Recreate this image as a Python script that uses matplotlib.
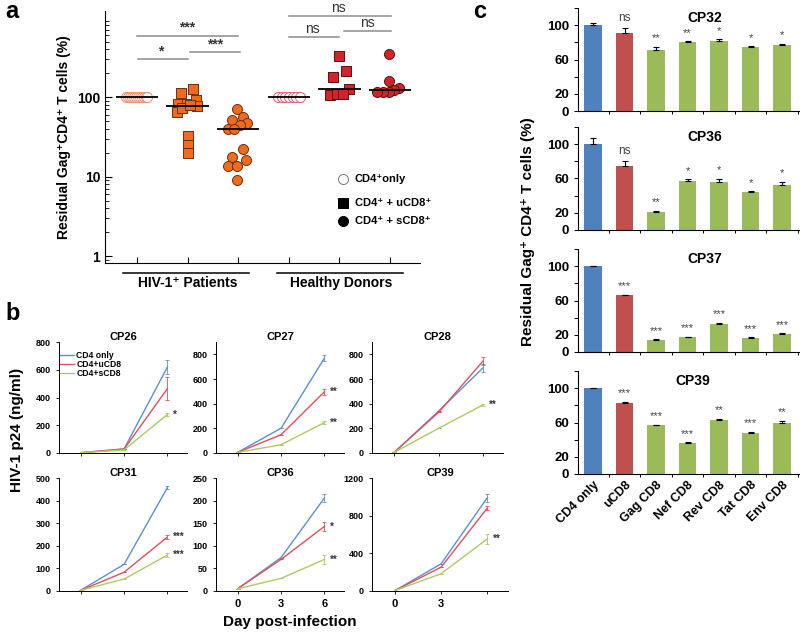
import matplotlib.pyplot as plt
import numpy as np
from matplotlib.transforms import blended_transform_factory

plt.rcParams['font.family'] = ['Liberation Sans', 'DejaVu Sans']
plt.rcParams['font.weight'] = 'bold'
plt.rcParams['axes.titleweight'] = 'bold'
plt.rcParams['axes.linewidth'] = 0.8

W, H = 800, 632


def box(l, t, r, b):
    # pixel box -> figure fraction
    return [l / W, 1 - b / H, (r - l) / W, (b - t) / H]


# ---------------- panel a data ----------------
pat_cd4 = [100, 100, 100, 100, 100, 100, 100, 100, 100, 100, 100, 100]
pat_ucd8 = [113, 125, 82, 83, 92, 77, 65, 72, 79, 32, 25, 20]
pat_scd8 = [71, 52, 57, 47, 45, 40, 40, 22, 17.5, 16.4, 13.6, 13.6, 9.1]
hd_cd4 = [100, 100, 100, 100, 100, 100, 100]
hd_ucd8 = [328, 214, 180, 126, 106, 108, 108]
hd_scd8 = [348, 160, 132, 122, 117, 115, 115]

# horizontal scatter of the points (pixels)
jit_pat_cd4 = [-11, -9, -7, -5, -3, -1, 1, 3, 5, 7, 9, 10]
jit_pat_ucd8 = [-7, 5, -10, -1, 8, 9, -11, -6, 2, 0, 0, 0]
jit_pat_scd8 = [-1, -6, 5, 9, 2, -10, -4, 5, -6, 8, -10, -1, -1]
jit_hd_cd4 = [-11, -7.3, -3.7, 0, 3.7, 7.3, 11]
jit_hd_ucd8 = [0, 7, -6, 10, -9, -2, 4]
jit_hd_scd8 = [-1, -1, 9, 4, -1, -7, -13]

# ---------------- panel b data ----------------
days = [0, 3, 6]
b_titles = ['CP26', 'CP27', 'CP28', 'CP31', 'CP36', 'CP39']
b_cd4 = [[2, 30, 620], [5, 201, 770], [5, 340, 690], [3, 118, 458], [5, 74, 206], [5, 289, 990]]
b_ucd8 = [[2, 28, 465], [5, 148, 497], [5, 330, 745], [3, 83, 239], [5, 70, 143], [5, 253, 880]]
b_scd8 = [[2, 22, 278], [5, 67, 247], [5, 200, 390], [3, 53, 159], [5, 28, 70], [5, 184, 553]]
b_cd4_err = [[0, 0, 50], [0, 0, 25], [0, 0, 35], [0, 0, 5], [0, 0, 8], [0, 0, 40]]
b_ucd8_err = [[0, 0, 80], [0, 0, 25], [0, 0, 30], [0, 0, 10], [0, 0, 10], [0, 0, 20]]
b_scd8_err = [[0, 0, 10], [0, 0, 15], [0, 0, 5], [0, 0, 8], [0, 0, 10], [0, 0, 50]]
b_ucd8_sig = ['', '**', '', '***', '*', '']
b_scd8_sig = ['*', '**', '**', '***', '**', '**']
b_ymax = [800, 900, 900, 500, 250, 1200]
b_yticks = [[0, 200, 400, 600, 800], [0, 200, 400, 600, 800], [0, 200, 400, 600, 800],
            [0, 100, 200, 300, 400, 500], [0, 50, 100, 150, 200, 250], [0, 400, 800, 1200]]

# ---------------- panel c data ----------------
c_groups = ['CD4 only', 'uCD8', 'Gag CD8', 'Nef CD8', 'Rev CD8', 'Tat CD8', 'Env CD8']
c_titles = ['CP32', 'CP36', 'CP37', 'CP39']
c_vals = [[100, 91.4, 71.4, 80, 82, 74, 76.5],
          [100, 74, 21.4, 57.6, 55.6, 44.7, 52.5],
          [100, 66.3, 14.4, 17.4, 33, 16.7, 21.4],
          [100, 83, 56.6, 36, 63.2, 47.7, 59.3]]
c_errs = [[2.7, 5.5, 3.5, 1.5, 1.5, 1.5, 2],
          [7, 6.6, 0.8, 1.5, 4, 0.5, 3.5],
          [0.5, 0.6, 0.6, 0.6, 0.8, 0.6, 0.6],
          [0.5, 1, 1, 0.7, 1, 1.5, 2.5]]
c_sig = [['', 'ns', '**', '**', '*', '*', '*'],
         ['', 'ns', '**', '*', '*', '*', '*'],
         ['', '***', '***', '***', '***', '***', '***'],
         ['', '***', '***', '***', '**', '***', '**']]

ORANGE = '#f26b1d'
RED = '#d3222c'
BLUE_L, RED_L, GREEN_L = '#5b8fd6', '#e0505a', '#a9cc62'
BAR_COLORS = ['#4f81bd', '#c0504d', '#9bbb59', '#9bbb59', '#9bbb59', '#9bbb59', '#9bbb59']

fig = plt.figure(figsize=(W / 100, H / 100), dpi=100)

# ====================== panel a ======================
ax = fig.add_axes(box(105, 11, 420, 263))
ax.set_yscale('log')
ax.set_ylim(0.82, 1210)
ax.set_xlim(0.37, 6.59)
for s in ['top', 'right']:
    ax.spines[s].set_visible(False)
px = 1 / 50.6  # one pixel in x data units

groups = [
    (1, pat_cd4, jit_pat_cd4, 'o', 'white', '#f09070'),
    (2, pat_ucd8, jit_pat_ucd8, 's', ORANGE, '#6a3010'),
    (3, pat_scd8, jit_pat_scd8, 'o', ORANGE, '#6a3010'),
    (4, hd_cd4, jit_hd_cd4, 'o', 'white', '#e06070'),
    (5, hd_ucd8, jit_hd_ucd8, 's', RED, '#5a1010'),
    (6, hd_scd8, jit_hd_scd8, 'o', RED, '#5a1010'),
]
for xc, vals, jit, mk, fc, ec in groups:
    xs = [xc + j * px for j in jit]
    ax.scatter(xs, vals, s=52, marker=mk, facecolor=fc, edgecolor=ec, linewidth=0.7, zorder=3)
    ax.hlines(np.median(vals), xc - 0.42, xc + 0.42, color='black', lw=1.3, zorder=4)

ax.set_xticks([1, 2, 3, 4, 5, 6])
ax.set_xticklabels([])
ax.set_yticks([1, 10, 100])
ax.set_yticklabels(['1', '10', '100'], fontsize=10)
ax.tick_params(axis='both', which='both', direction='in')
ax.tick_params(axis='y', which='major', length=5)
ax.tick_params(axis='y', which='minor', length=3)
ax.tick_params(axis='x', length=4)
ax.set_ylabel('Residual Gag⁺CD4⁺ T cells (%)', fontsize=10, fontweight='bold', labelpad=4)

brackets = [
    ('*', 1.02, 2.0, 300, 1.47),
    ('***', 1.0, 3.0, 590, 2.0),
    ('***', 2.05, 3.04, 368, 2.54),
    ('ns', 4.0, 6.02, 1040, 4.97),
    ('ns', 4.0, 5.0, 570, 4.47),
    ('ns', 5.08, 6.02, 676, 5.55),
]
for lab, x1, x2, yv, xt in brackets:
    ax.plot([x1, x2], [yv, yv], color='#8c8c8c', lw=1.1, clip_on=False)
    ax.text(xt, yv * 1.03, lab, ha='center', va='bottom', fontsize=10,
            fontweight='normal' if lab == 'ns' else 'bold', color='#333333', clip_on=False)

trans = blended_transform_factory(ax.transData, ax.transAxes)
ax.plot([0.72, 3.21], [-0.04, -0.04], color='black', lw=1.1, transform=trans, clip_on=False)
ax.plot([3.77, 6.26], [-0.04, -0.04], color='black', lw=1.1, transform=trans, clip_on=False)
ax.text(2.0, -0.08, 'HIV-1⁺ Patients', transform=trans, ha='center', va='center', fontsize=10)
ax.text(5.03, -0.08, 'Healthy Donors', transform=trans, ha='center', va='center', fontsize=10)

leg_y = [0.333, 0.238, 0.167]
leg_lab = ['CD4⁺only', 'CD4⁺ + uCD8⁺', 'CD4⁺ + sCD8⁺']
leg_mk = [('o', 'white'), ('s', 'black'), ('o', 'black')]
for yy, lab, (mk, fc) in zip(leg_y, leg_lab, leg_mk):
    ax.scatter([5.07], [yy], s=52, marker=mk, facecolor=fc, edgecolor='black' if fc == 'black' else '#777777',
               linewidth=0.7, transform=trans, clip_on=False)
    ax.text(5.3, yy, lab, transform=trans, ha='left', va='center', fontsize=8)

# ====================== panel b ======================
b_boxes = [(59, 342, 187, 453), (216, 342, 344, 453), (372, 342, 503, 453),
           (59, 478, 187, 591), (216, 478, 344, 591), (372, 478, 508, 591)]
for i, (l, t, r, bt) in enumerate(b_boxes):
    bx = fig.add_axes(box(l, t, r, bt))
    for s in ['top', 'right']:
        bx.spines[s].set_visible(False)
    bx.spines['left'].set_linewidth(0.7)
    bx.spines['bottom'].set_linewidth(0.7)
    for vals, err, col, lab in [(b_cd4[i], b_cd4_err[i], BLUE_L, 'CD4 only'),
                                (b_ucd8[i], b_ucd8_err[i], RED_L, 'CD4+uCD8'),
                                (b_scd8[i], b_scd8_err[i], GREEN_L, 'CD4+sCD8')]:
        bx.plot(days, vals, color=col, lw=1.0, label=lab)
        bx.errorbar(days, vals, yerr=err, fmt='none', ecolor=col, elinewidth=0.6, capsize=1.5,
                    capthick=0.6)
    ymax = b_ymax[i]
    for vals, sig in [(b_ucd8[i], b_ucd8_sig[i]), (b_scd8[i], b_scd8_sig[i])]:
        if sig:
            bx.text(6.4, vals[2], sig, ha='left', va='center', fontsize=7, color='#333333')
    bx.set_xlim(-1.5, 7.35)
    bx.set_ylim(0, ymax)
    bx.set_yticks(b_yticks[i])
    bx.tick_params(axis='both', labelsize=6.5, length=2.5, width=0.6)
    bx.set_xticks(days)
    if i == 4:
        bx.set_xticklabels(['0', '3', '6'], fontsize=8)
    elif i == 5:
        bx.set_xticklabels(['0', '3', ''], fontsize=8)
    else:
        bx.set_xticklabels([])
    bx.set_title(b_titles[i], fontsize=8, pad=0.5)
    if i == 0:
        bx.legend(loc='upper left', bbox_to_anchor=(0.0, 0.93), frameon=False, fontsize=6.2,
                  handlelength=1.6, handletextpad=0.3, labelspacing=0.05, borderpad=0.1,
                  borderaxespad=0)

fig.text(17 / W, 1 - 430 / H, 'HIV-1 p24 (ng/ml)', rotation=90, ha='center', va='center', fontsize=11)
fig.text(290 / W, 1 - 622 / H, 'Day post-infection', ha='center', va='center', fontsize=11)

# ====================== panel c ======================
c_boxes = [(578, 8, 800, 111), (578, 127, 800, 230), (578, 249, 800, 352), (578, 371, 800, 474)]
title_x = [3.55, 3.55, 3.55, 3.15]
xpos = np.arange(len(c_groups))
for k, (l, t, r, bt) in enumerate(c_boxes):
    cx = fig.add_axes(box(l, t, r, bt))
    for s in ['top', 'right']:
        cx.spines[s].set_visible(False)
    cx.bar(xpos, c_vals[k], width=0.56, color=BAR_COLORS, zorder=2)
    cx.errorbar(xpos, c_vals[k], yerr=[np.zeros(len(xpos)), c_errs[k]], fmt='none', ecolor='black',
                elinewidth=0.8, capsize=2.5, capthick=0.8, zorder=3)
    for x, v, e, sg in zip(xpos, c_vals[k], c_errs[k], c_sig[k]):
        if sg:
            cx.text(x, v + e + 4, sg, ha='center', va='bottom',
                    fontsize=8.5 if sg == 'ns' else 8, fontweight='normal', color='#444444')
    cx.set_xlim(-0.48, 6.57)
    cx.set_ylim(0, 120)
    cx.set_yticks([0, 20, 40, 60, 80, 100, 120])
    cx.set_yticklabels(['0', '20', '', '60', '', '100', ''], fontsize=9.5)
    cx.set_xticks(xpos + 0.5, minor=True)
    cx.tick_params(axis='y', length=3, width=0.7)
    cx.tick_params(axis='x', which='minor', length=2.5, width=0.7)
    cx.set_xticks(xpos)
    cx.tick_params(axis='x', which='major', length=0)
    if k == 3:
        cx.set_xticklabels(c_groups, rotation=45, ha='right', va='top', rotation_mode='anchor', fontsize=9)
    else:
        cx.set_xticklabels([])
    cx.text(title_x[k], 116, c_titles[k], ha='center', va='top', fontsize=10)

fig.text(528 / W, 1 - 232 / H, 'Residual Gag⁺ CD4⁺ T cells (%)', rotation=90, ha='center', va='center',
         fontsize=11)

# panel letters
fig.text(5 / W, 1 - 12 / H, 'a', fontsize=17, ha='left', va='center')
fig.text(5 / W, 1 - 313 / H, 'b', fontsize=17, ha='left', va='center')
fig.text(473 / W, 1 - 12 / H, 'c', fontsize=17, ha='left', va='center')

plt.savefig('out.png', dpi=100)
